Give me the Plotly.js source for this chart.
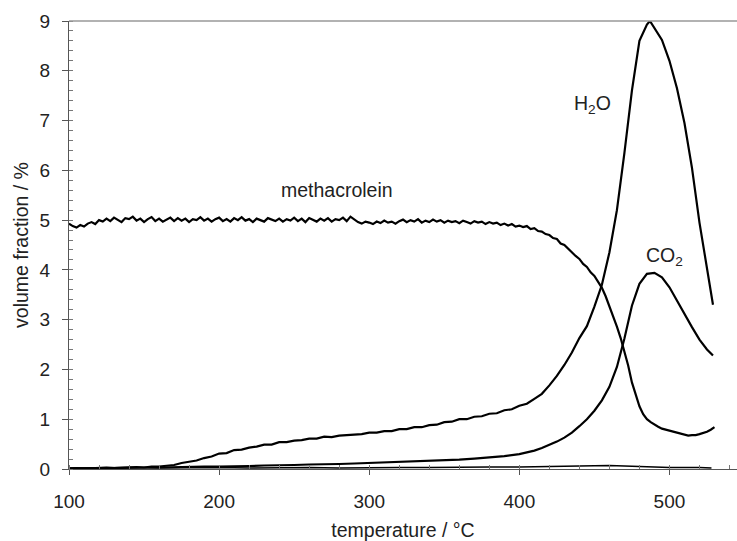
<!DOCTYPE html>
<html>
<head>
<meta charset="utf-8">
<script src="https://cdn.plot.ly/plotly-3.0.1.min.js"></script>
<style>html,body{margin:0;padding:0;background:#fff;}#chart{width:737px;height:541px;}</style>
</head>
<body>
<div id="chart"></div>
<script>
// temperature grid for methacrolein (°C)
const tempMain = [100,102.5,105,107.5,110,112.5,115,117.5,120,122.5,125,127.5,130,132.5,135,137.5,140,142.5,145,147.5,
  150,152.5,155,157.5,160,162.5,165,167.5,170,172.5,175,177.5,180,182.5,185,187.5,190,192.5,195,197.5,
  200,202.5,205,207.5,210,212.5,215,217.5,220,222.5,225,227.5,230,232.5,235,237.5,240,242.5,245,247.5,
  250,252.5,255,257.5,260,262.5,265,267.5,270,272.5,275,277.5,280,282.5,285,287.5,290,292.5,295,297.5,
  300,302.5,305,307.5,310,312.5,315,317.5,320,322.5,325,327.5,330,332.5,335,337.5,340,342.5,345,347.5,
  350,352.5,355,357.5,360,362.5,365,367.5,370,372.5,375,377.5,380,382.5,385,387.5,390,392.5,395,397.5,
  400,402.5,405,407.5,410,412.5,415,417.5,420,422.5,425,427.5,430,432.5,435,437.5,440,442.5,445,447.5,
  450,452.5,455,457.5,460,462.5,465,467.5,470,472.5,475,477.5,480,482.5,485,487.5,490,492.5,495,497.5,
  500,502.5,505,507.5,510,512.5,515,517.5,520,522.5,525,527.5,530];
// methacrolein volume fraction (%)
const methacrolein = [4.93,4.88,4.85,4.9,4.87,4.93,4.96,4.92,5.0,4.97,5.03,4.98,5.05,5.0,4.96,5.04,5.02,5.07,4.99,5.03,
  4.96,5.02,5.06,4.98,5.03,4.97,5.01,5.05,4.98,5.04,4.99,5.03,4.96,5.02,5.0,5.06,4.99,5.03,4.97,5.02,
  5.05,4.98,5.02,4.97,5.04,5.0,5.06,4.99,5.02,4.96,5.03,5.0,4.97,5.04,5.01,4.98,5.03,4.97,5.02,4.99,
  5.05,4.98,5.03,4.96,5.04,5.0,4.97,5.03,4.99,5.04,4.97,5.02,5.0,5.05,4.98,5.07,5.02,4.96,4.93,4.97,
  4.95,4.92,4.97,4.94,4.99,4.95,4.97,4.93,4.98,5.01,4.96,5.0,4.97,5.02,4.95,4.99,4.96,5.01,4.97,5.0,
  4.95,4.99,4.96,4.98,4.94,4.99,4.96,4.93,4.98,4.95,4.97,4.92,4.96,4.93,4.95,4.9,4.93,4.89,4.92,4.87,
  4.89,4.86,4.88,4.82,4.84,4.78,4.77,4.72,4.7,4.64,4.62,4.53,4.5,4.42,4.36,4.28,4.22,4.12,4.06,3.95,
  3.88,3.76,3.64,3.47,3.28,3.08,2.86,2.63,2.38,2.08,1.74,1.48,1.26,1.1,1.0,0.94,0.89,0.85,0.81,0.79,
  0.76,0.74,0.72,0.7,0.69,0.67,0.68,0.68,0.7,0.72,0.75,0.79,0.84];

const tempH2O = [100,105,110,115,120,125,130,135,140,145,150,155,160,165,170,175,180,185,190,195,
  200,205,210,215,220,225,230,235,240,245,250,255,260,265,270,275,280,285,290,295,
  300,305,310,315,320,325,330,335,340,345,350,355,360,365,370,375,380,385,390,395,
  400,405,410,415,420,425,430,435,440,445,450,455,460,465,470,475,480,485,487,490,495,
  500,505,510,515,520,525,529];
// water volume fraction (%)
const h2o = [0.01,0.02,0.01,0.02,0.02,0.03,0.02,0.03,0.03,0.04,0.03,0.05,0.05,0.07,0.08,0.12,0.15,0.17,0.22,0.25,
  0.31,0.32,0.38,0.39,0.43,0.45,0.49,0.49,0.54,0.54,0.57,0.58,0.61,0.61,0.65,0.64,0.67,0.68,0.7,0.7,
  0.73,0.73,0.76,0.76,0.8,0.8,0.84,0.84,0.88,0.89,0.94,0.95,1.0,1.0,1.05,1.06,1.11,1.12,1.18,1.2,
  1.27,1.31,1.41,1.51,1.68,1.87,2.09,2.34,2.63,2.87,3.26,3.7,4.35,5.2,6.35,7.6,8.6,8.93,9.0,8.86,8.62,
  8.2,7.65,6.95,6.05,4.95,4.0,3.3];

const tempCO2 = [100,110,120,130,140,150,160,170,180,190,200,210,220,230,240,250,260,270,280,290,
  300,310,320,330,340,350,360,370,380,390,400,405,410,415,420,425,430,435,440,445,
  450,455,460,465,470,475,480,485,490,495,500,505,510,515,520,525,529];
// carbon dioxide volume fraction (%)
const co2 = [0.01,0.02,0.02,0.02,0.03,0.03,0.03,0.04,0.04,0.05,0.05,0.05,0.06,0.07,0.07,0.08,0.09,0.09,0.1,0.11,
  0.12,0.13,0.14,0.15,0.16,0.18,0.19,0.21,0.23,0.26,0.3,0.33,0.37,0.42,0.48,0.55,0.63,0.73,0.86,1.0,
  1.17,1.38,1.65,2.05,2.62,3.28,3.72,3.92,3.94,3.85,3.65,3.38,3.1,2.85,2.6,2.4,2.28];

const tempBase = [100,120,140,160,180,200,220,240,260,280,300,320,340,360,380,400,420,440,460,480,500,520,528];
// unlabelled trace near zero (%)
const baseline = [0.02,0.03,0.03,0.02,0.03,0.03,0.02,0.03,0.03,0.02,0.03,0.03,0.03,0.04,0.04,0.04,0.05,0.06,0.07,0.05,0.03,0.03,0.02];

// curve labels
const labelText = ['methacrolein','H<sub>2</sub>O','CO<sub>2</sub>'];
const labelX = [278.5, 448.5, 497];
const labelY = [5.6, 7.33, 4.26];

const lineStyle = {color:'#000', width:2.2};
const traces = [
  {x:tempMain, y:methacrolein, mode:'lines', line:lineStyle, name:'methacrolein'},
  {x:tempH2O, y:h2o, mode:'lines', line:lineStyle, name:'H2O'},
  {x:tempCO2, y:co2, mode:'lines', line:lineStyle, name:'CO2'},
  {x:tempBase, y:baseline, mode:'lines', line:{color:'#000', width:1.6}, name:'other'}
];

const fam = '"Liberation Sans", Arial, sans-serif';
const f = s => ({family:fam, size:s, color:'#222'});
const layout = {
  width:737, height:541,
  margin:{l:69, r:0, t:21, b:72},
  paper_bgcolor:'#fff', plot_bgcolor:'#fff',
  showlegend:false,
  font:f(19),
  xaxis:{
    range:[100,545], tickvals:[100,200,300,400,500], ticks:'outside', ticklen:5, tickcolor:'#555',
    ticklabelstandoff:10,
    showline:true, linecolor:'#555', linewidth:1, showgrid:false, zeroline:false,
    minor:{dtick:20, tick0:100, ticks:'inside', ticklen:4, tickcolor:'#777', showgrid:false},
    tickfont:f(19),
    title:{text:'temperature / °C', font:f(19.5), standoff:14}
  },
  yaxis:{
    range:[0,9], dtick:1, ticks:'outside', ticklen:6, tickcolor:'#555',
    ticklabelstandoff:8,
    showline:true, linecolor:'#555', linewidth:1, showgrid:false, zeroline:false,
    minor:{dtick:0.2, ticks:'inside', ticklen:4, tickcolor:'#777', showgrid:false},
    tickfont:f(19),
    title:{text:'volume fraction / %', font:f(19.5), standoff:5}
  },
  shapes:[{type:'line', xref:'paper', yref:'paper', x0:0, x1:1, y0:1, y1:1, line:{color:'#999', width:1.5}}],
  annotations: labelText.map((t,i)=>({x:labelX[i], y:labelY[i], text:t, showarrow:false,
    font:f(19.5), xanchor:'center', yanchor:'middle'}))
};
Plotly.newPlot('chart', traces, layout, {staticPlot:true, displayModeBar:false});
</script>
</body>
</html>
